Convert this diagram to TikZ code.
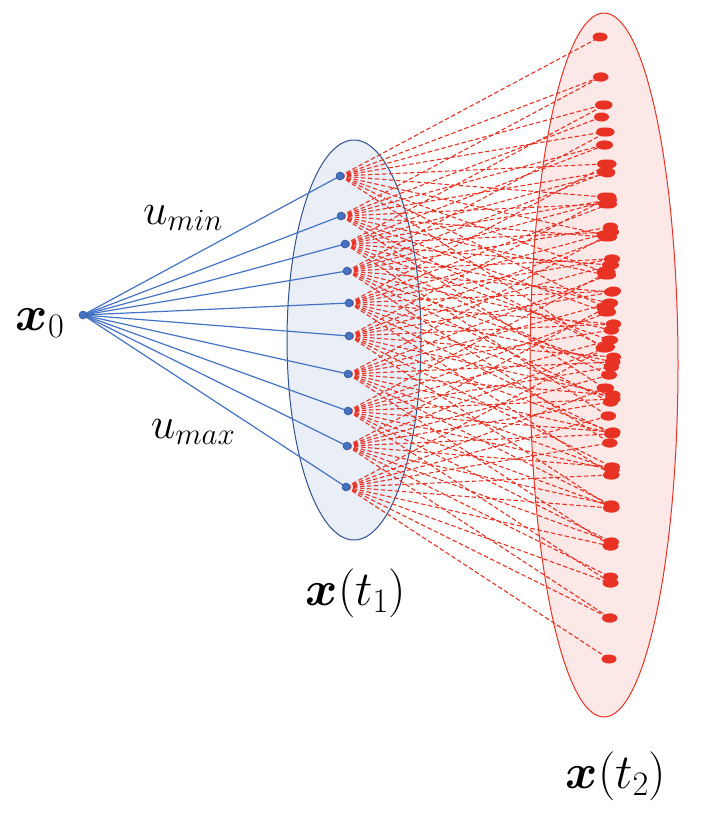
\RequirePackage{fix-cm}
\documentclass[tikz,border=0pt]{standalone}
\usepackage{amsmath,amssymb}
\usepackage{bm}
\usetikzlibrary{shapes.geometric}

\definecolor{setblue}{RGB}{47,82,143}
\definecolor{lineblue}{RGB}{68,114,196}
\definecolor{fillblue}{RGB}{233,238,247}
\definecolor{setred}{RGB}{232,50,36}
\definecolor{fillred}{RGB}{253,232,232}

\pgfdeclarelayer{sets}
\pgfdeclarelayer{links}
\pgfsetlayers{sets,links,main}

\begin{document}
\begin{tikzpicture}[x=1pt,y=-1pt,
  blueline/.style={draw=lineblue,line width=1.2pt},
  redline/.style={draw=setred,line width=1.1pt,dash pattern=on 4.5pt off 2.5pt},
  bluedot/.style={circle,fill=lineblue,draw=setblue,line width=0.5pt,inner sep=0pt,minimum size=8pt},
  reddot/.style={ellipse,fill=setred,inner sep=0pt,minimum width=15pt,minimum height=9pt},
  setshape/.style={ellipse,inner sep=0pt,line width=1pt},
  biglabel/.style={font=\fontsize{49}{55}\selectfont},
  ctrllabel/.style={font=\fontsize{44}{50}\selectfont}]

  \useasboundingbox (0,0) rectangle (720,814);

  % reachable sets
  \begin{pgfonlayer}{sets}
    \node[setshape,draw=setblue,fill=fillblue,minimum width=134pt,minimum height=400pt] (set1) at (354,340) {};
    \node[setshape,draw=setred,fill=fillred,minimum width=148pt,minimum height=704pt] (set2) at (604,365) {};
  \end{pgfonlayer}

  % initial state
  \node[bluedot] (x0) at (83,315) {};
  \def\stepone{0/340/176,1/341/216,2/345/244,3/347/271,4/349/303,5/349/336,6/348/374,7/348/411,8/347/446,9/346/487}

  % first step, one line per control
  \foreach \i/\xa/\ya in \stepone {
    \node[bluedot] (a\i) at (\xa,\ya) {};
    \begin{pgfonlayer}{links}
      \draw[blueline] (x0.center) -- (a\i.center);
    \end{pgfonlayer}
  }

  % second step, same controls from every point
  \foreach \i/\xa/\ya in \stepone {
    \foreach \j/\xb/\yb in \stepone {
      \pgfmathsetmacro\bx{\xa+0.5*(\xb-340)+260}
      \pgfmathsetmacro\by{\ya+\yb-315}
      \node[reddot] (b\i\j) at (\bx,\by) {};
      \begin{pgfonlayer}{links}
        \draw[redline] (a\i.center) -- (b\i\j.center);
      \end{pgfonlayer}
    }
  }

  % labels
  \node[biglabel,anchor=base] (lx0) at (40,330) {$\bm{x}_0$};
  \node[ctrllabel,anchor=base] (lmin) at (183,224) {$u_{min}$};
  \node[ctrllabel,anchor=base] (lmax) at (193,438) {$u_{max}$};
  \node[biglabel,anchor=base] (lt1) at (356,605) {$\bm{x}(t_1)$};
  \node[biglabel,anchor=base] (lt2) at (616,788) {$\bm{x}(t_2)$};

\end{tikzpicture}
\end{document}
